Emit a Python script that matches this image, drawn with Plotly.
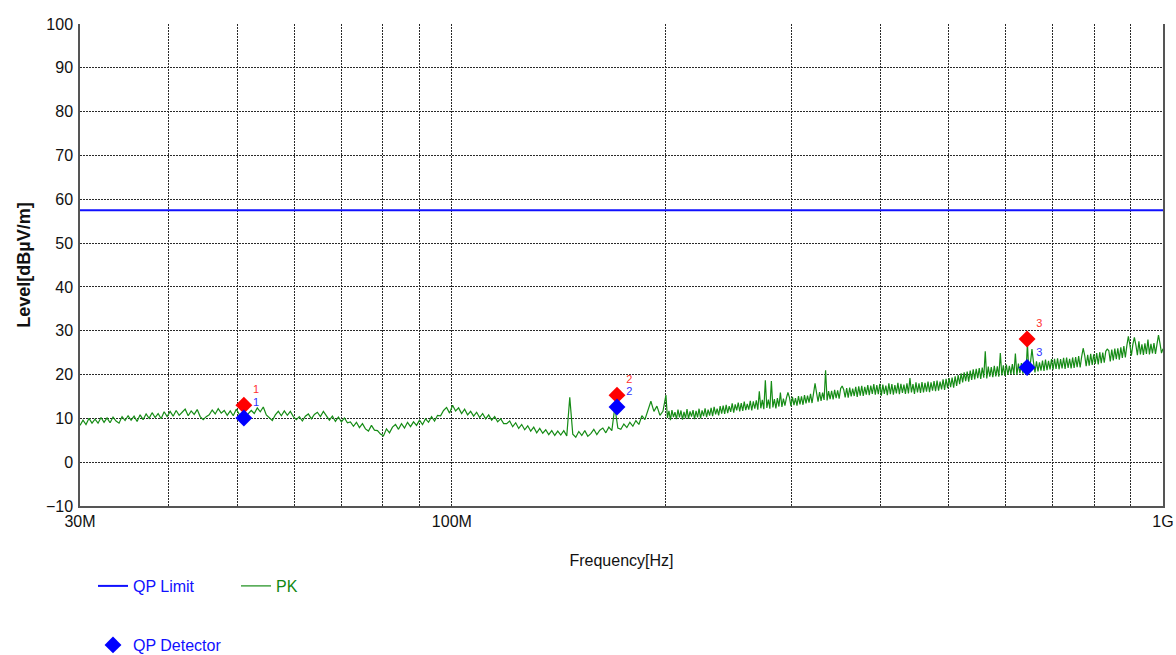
import numpy as np
import plotly.graph_objects as go

# ---------------- data ----------------
f_start_hz = 30e6
f_split_hz = 200e6
f_stop_hz = 1e9

qp_limit_freq = [30e6, 1e9]
qp_limit_level = [57.5, 57.5]

# PK sweep, 30 MHz .. 200 MHz
pk_levels_low = [
    8.4, 9.6, 8.6, 10.0, 8.9, 9.8, 8.9, 10.2, 9.1, 10.1,
    9.0, 10.3, 9.4, 8.9, 10.4, 9.5, 10.6, 9.6, 10.5, 9.3,
    10.8, 9.7, 11.0, 10.0, 11.3, 10.2, 11.1, 9.9, 11.5, 10.4,
    11.6, 10.5, 11.8, 10.7, 11.4, 12.1, 10.6, 11.7, 10.9, 12.0,
    10.4, 9.7, 10.4, 10.8, 11.9, 11.0, 12.2, 11.2, 11.8, 10.7,
    11.7, 10.6, 12.1, 10.9, 10.3, 10.0, 11.1, 11.8, 11.1, 12.4,
    11.5, 12.6, 10.8, 10.1, 9.5, 10.8, 11.6, 10.6, 11.7, 10.7,
    11.6, 10.4, 9.7, 10.4, 9.4, 10.5, 11.0, 9.9, 10.9, 11.4,
    10.4, 11.6, 10.7, 9.6, 10.5, 9.3, 10.3, 9.2, 10.1, 9.0,
    9.2, 8.2, 9.1, 7.9, 8.8, 7.6, 7.1, 8.4, 7.3, 7.2,
    6.4, 6.0, 7.6, 6.7, 8.0, 8.6, 7.5, 8.8, 7.8, 9.1,
    8.1, 9.2, 8.4, 9.6, 8.6, 9.9, 9.1, 10.4, 9.4, 10.7,
    10.6, 11.8, 12.5, 11.2, 13.0, 11.7, 12.4, 11.1, 12.1, 10.8,
    11.6, 10.5, 11.4, 10.2, 11.1, 9.9, 10.8, 9.6, 10.4, 9.2,
    9.9, 8.8, 8.8, 9.4, 8.1, 9.0, 7.7, 8.6, 7.4, 8.3,
    7.1, 8.0, 6.7, 7.7, 6.6, 7.4, 6.3, 7.2, 6.1, 7.1,
    6.2, 7.2, 6.0, 14.8, 6.4, 5.7, 7.0, 6.1, 7.2, 5.9,
    6.5, 7.5, 6.3, 7.3, 7.8, 6.7, 8.0, 7.2, 12.6, 7.8,
    7.5, 8.7, 7.9, 9.1, 8.2, 9.5, 8.6, 10.6, 9.7, 11.8,
    13.9, 11.6, 12.8, 10.7, 11.6,
]

# PK sweep, 200 MHz .. 1 GHz (denser)
pk_levels_high = [
    15.3, 10.1, 11.7, 9.6, 11.9, 10.3, 11.4, 9.8, 12.0, 10.2,
    11.8, 9.7, 11.5, 10.0, 12.1, 9.9, 11.6, 10.4, 11.9, 9.8,
    11.7, 10.2, 12.2, 10.0, 11.8, 10.5, 12.3, 10.3, 12.0, 10.6,
    12.4, 10.5, 12.6, 10.9, 12.2, 10.7, 12.8, 11.1, 12.9, 11.0,
    13.1, 11.2, 12.8, 11.5, 13.4, 11.3, 13.2, 11.8, 13.6, 11.6,
    13.5, 11.7, 13.8, 11.9, 13.3, 12.0, 14.0, 11.8, 13.9, 12.2,
    14.1, 12.0, 16.2, 12.3, 14.2, 12.1, 18.7, 12.4, 14.3, 12.2,
    18.5, 12.5, 14.4, 12.3, 14.6, 12.7, 15.9, 12.6, 14.5, 12.9,
    14.7, 15.9, 14.8, 12.8, 14.9, 13.0, 14.6, 12.9, 15.1, 13.2,
    15.0, 13.1, 15.3, 13.4, 15.2, 13.6, 15.6, 13.5, 15.7, 18.0,
    15.8, 13.8, 16.0, 14.0, 15.9, 14.2, 21.0, 14.1, 16.2, 14.4,
    16.3, 14.3, 16.5, 14.6, 16.4, 14.5, 16.8, 17.4, 16.6, 14.8,
    16.9, 14.7, 17.0, 15.0, 16.8, 15.1, 17.2, 14.9, 17.3, 15.2,
    17.4, 15.1, 17.2, 15.4, 17.6, 15.3, 17.5, 15.6, 17.8, 15.4,
    17.6, 15.5, 17.9, 15.2, 17.7, 15.6, 17.5, 15.3, 18.0, 15.5,
    17.8, 15.4, 17.6, 15.7, 18.1, 15.5, 17.9, 15.8, 17.7, 15.6,
    18.0, 15.7, 19.2, 15.9, 17.8, 15.6, 18.2, 15.9, 18.0, 15.8,
    18.3, 15.9, 18.1, 16.1, 18.4, 16.0, 18.2, 16.3, 18.5, 16.2,
    18.6, 16.3, 18.4, 16.6, 18.9, 16.5, 19.0, 16.9, 19.2, 17.1,
    19.3, 17.0, 19.6, 17.4, 19.9, 17.8, 20.3, 18.2, 20.5, 18.5,
    20.7, 18.4, 20.9, 18.8, 21.2, 18.9, 21.3, 19.2, 21.5, 19.0,
    21.6, 19.3, 25.3, 19.1, 21.8, 19.5, 21.7, 19.4, 22.0, 19.6,
    21.9, 19.5, 24.9, 19.8, 22.1, 19.7, 22.3, 19.9, 22.0, 20.1,
    22.4, 20.0, 24.8, 19.9, 22.5, 20.3, 22.6, 20.2, 22.8, 20.4,
    27.0, 20.3, 22.7, 25.8, 22.9, 20.5, 23.0, 20.7, 22.8, 20.9,
    23.2, 20.8, 23.4, 21.0, 23.1, 21.2, 23.5, 21.1, 23.6, 21.3,
    23.7, 21.2, 23.5, 21.4, 23.8, 21.3, 23.9, 21.5, 23.6, 21.4,
    23.9, 21.5, 24.0, 21.7, 24.2, 21.6, 24.1, 26.0, 24.4, 21.9,
    24.5, 22.0, 24.7, 22.2, 24.6, 22.4, 24.9, 22.3, 25.1, 22.6,
    25.0, 22.7, 25.3, 25.8, 25.5, 23.0, 25.7, 23.2, 25.9, 23.5,
    26.0, 23.4, 26.2, 23.8, 26.5, 23.9, 26.6, 28.7, 26.8, 24.3,
    26.9, 28.5, 26.7, 24.4, 27.6, 24.6, 26.9, 24.5, 27.1, 24.7,
    28.0, 24.6, 27.0, 24.8, 27.2, 24.7, 26.9, 29.0, 27.1, 24.9,
    25.9,
]

# sweep grids (log-spaced measurement points)
pk_freq_low = np.geomspace(f_start_hz, f_split_hz, len(pk_levels_low), endpoint=False)
pk_freq_high = np.geomspace(f_split_hz, f_stop_hz, len(pk_levels_high))
pk_freq = np.concatenate([pk_freq_low, pk_freq_high])
pk_levels = pk_levels_low + pk_levels_high

marker_ids = ["1", "2", "3"]
marker_freq = [51.0e6, 170.7e6, 644.0e6]
pk_marker_level = [13.0, 15.3, 28.1]
qp_marker_level = [10.1, 12.6, 21.6]

x_tick_vals = [30e6, 100e6, 1e9]
x_tick_text = ["30M", "100M", "1G"]
x_minor_grid = [40e6, 50e6, 60e6, 70e6, 80e6, 90e6,
                200e6, 300e6, 400e6, 500e6, 600e6, 700e6, 800e6, 900e6]

# ---------------- figure ----------------
FONT = "Liberation Sans, Arial, sans-serif"
GRID = "#2a2a2a"
DASH = "2px,1px"

fig = go.Figure()

fig.add_trace(go.Scatter(
    x=qp_limit_freq, y=qp_limit_level, mode="lines",
    line=dict(color="#1010ff", width=2),
    name="<span style='color:#1010ff'>QP Limit</span>",
    legend="legend",
))

fig.add_trace(go.Scatter(
    x=pk_freq, y=pk_levels, mode="lines",
    line=dict(color="#168c16", width=1.2),
    name="<span style='color:#118811'>PK</span>",
    legend="legend",
))

fig.add_trace(go.Scatter(
    x=marker_freq, y=pk_marker_level, mode="markers+text",
    marker=dict(symbol="diamond", size=13, color="#ff0000"),
    text=marker_ids, textposition="top right",
    textfont=dict(color="#ff3030", size=11, family=FONT),
    showlegend=False,
))

fig.add_trace(go.Scatter(
    x=marker_freq, y=qp_marker_level, mode="markers+text",
    marker=dict(symbol="diamond", size=13, color="#0000ff"),
    text=marker_ids, textposition="top right",
    textfont=dict(color="#3030ff", size=11, family=FONT),
    name="<span style='color:#1010ff'>QP Detector</span>",
    legend="legend2",
))

fig.update_xaxes(
    type="log", automargin=False,
    range=[np.log10(f_start_hz), np.log10(f_stop_hz)],
    tickmode="array", tickvals=x_tick_vals, ticktext=x_tick_text,
    showgrid=True, gridcolor=GRID, griddash=DASH, gridwidth=1,
    minor=dict(tickmode="array", tickvals=x_minor_grid, showgrid=True,
               gridcolor=GRID, griddash=DASH, gridwidth=1, ticks=""),
    showline=True, linecolor="#555555", linewidth=1.5, mirror=False,
    zeroline=False, ticks="",
    tickfont=dict(size=16, color="#111111", family=FONT),
    ticklabelstandoff=0,
    title=dict(text="Frequency[Hz]", font=dict(size=16, color="#111111", family=FONT),
               standoff=26),
)

fig.update_yaxes(
    range=[-10, 100], tickmode="linear", tick0=-10, dtick=10, automargin=False,
    showgrid=True, gridcolor=GRID, griddash=DASH, gridwidth=1,
    showline=True, linecolor="#555555", linewidth=1.5, mirror=True,
    zeroline=False, ticks="",
    tickfont=dict(size=16, color="#111111", family=FONT),
    ticklabelstandoff=2,
    title=dict(text="<b>Level[dBµV/m]</b>", font=dict(size=18, color="#111111", family=FONT),
               standoff=11),
)

fig.update_layout(
    width=1176, height=655,
    margin=dict(l=80, r=13, t=24, b=149, autoexpand=False),
    plot_bgcolor="white", paper_bgcolor="white",
    font=dict(family=FONT),
    showlegend=True,
    legend=dict(
        orientation="h", xref="container", yref="container",
        x=93 / 1176, y=1 - 569 / 655, xanchor="left", yanchor="top",
        font=dict(size=16, family=FONT),
        entrywidth=98, entrywidthmode="pixels",
        bgcolor="rgba(0,0,0,0)",
    ),
    legend2=dict(
        orientation="h", xref="container", yref="container",
        x=93 / 1176, y=1 - 628 / 655, xanchor="left", yanchor="top",
        font=dict(size=16, family=FONT),
        bgcolor="rgba(0,0,0,0)",
    ),
)

fig.write_html("out.html")
